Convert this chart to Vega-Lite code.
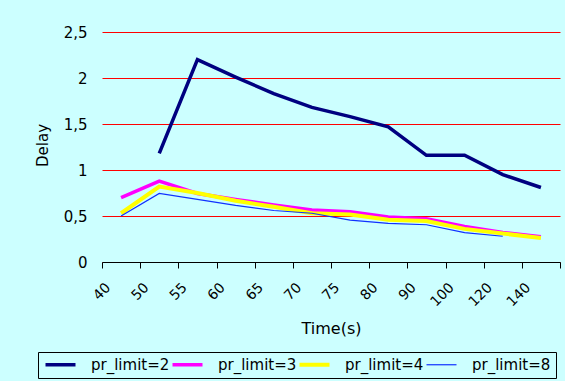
{
  "$schema": "https://vega.github.io/schema/vega-lite/v6.json",
  "width": 458,
  "height": 230,
  "autosize": {"type": "none"},
  "padding": {"left": 102, "top": 32, "right": 5, "bottom": 119},
  "background": "#CCFFFF",
  "config": {
    "view": {"stroke": null},
    "font": "DejaVu Sans"
  },
  "data": {
    "values": [
      {"time": "50", "series": "pr_limit=2", "delay": 1.18},
      {"time": "55", "series": "pr_limit=2", "delay": 2.2},
      {"time": "60", "series": "pr_limit=2", "delay": 2.01},
      {"time": "65", "series": "pr_limit=2", "delay": 1.83},
      {"time": "70", "series": "pr_limit=2", "delay": 1.68},
      {"time": "75", "series": "pr_limit=2", "delay": 1.58},
      {"time": "80", "series": "pr_limit=2", "delay": 1.47},
      {"time": "90", "series": "pr_limit=2", "delay": 1.16},
      {"time": "100", "series": "pr_limit=2", "delay": 1.16},
      {"time": "120", "series": "pr_limit=2", "delay": 0.95},
      {"time": "140", "series": "pr_limit=2", "delay": 0.81},
      {"time": "40", "series": "pr_limit=3", "delay": 0.7},
      {"time": "50", "series": "pr_limit=3", "delay": 0.88},
      {"time": "55", "series": "pr_limit=3", "delay": 0.745},
      {"time": "60", "series": "pr_limit=3", "delay": 0.68},
      {"time": "65", "series": "pr_limit=3", "delay": 0.62},
      {"time": "70", "series": "pr_limit=3", "delay": 0.565},
      {"time": "75", "series": "pr_limit=3", "delay": 0.545},
      {"time": "80", "series": "pr_limit=3", "delay": 0.49},
      {"time": "90", "series": "pr_limit=3", "delay": 0.47},
      {"time": "100", "series": "pr_limit=3", "delay": 0.385},
      {"time": "120", "series": "pr_limit=3", "delay": 0.32},
      {"time": "140", "series": "pr_limit=3", "delay": 0.275},
      {"time": "40", "series": "pr_limit=4", "delay": 0.53},
      {"time": "50", "series": "pr_limit=4", "delay": 0.82},
      {"time": "55", "series": "pr_limit=4", "delay": 0.75},
      {"time": "60", "series": "pr_limit=4", "delay": 0.665},
      {"time": "65", "series": "pr_limit=4", "delay": 0.6},
      {"time": "70", "series": "pr_limit=4", "delay": 0.53},
      {"time": "75", "series": "pr_limit=4", "delay": 0.515},
      {"time": "80", "series": "pr_limit=4", "delay": 0.46},
      {"time": "90", "series": "pr_limit=4", "delay": 0.445},
      {"time": "100", "series": "pr_limit=4", "delay": 0.36},
      {"time": "120", "series": "pr_limit=4", "delay": 0.31},
      {"time": "140", "series": "pr_limit=4", "delay": 0.26},
      {"time": "40", "series": "pr_limit=8", "delay": 0.5},
      {"time": "50", "series": "pr_limit=8", "delay": 0.745},
      {"time": "55", "series": "pr_limit=8", "delay": 0.68},
      {"time": "60", "series": "pr_limit=8", "delay": 0.615},
      {"time": "65", "series": "pr_limit=8", "delay": 0.56},
      {"time": "70", "series": "pr_limit=8", "delay": 0.53},
      {"time": "75", "series": "pr_limit=8", "delay": 0.455},
      {"time": "80", "series": "pr_limit=8", "delay": 0.42},
      {"time": "90", "series": "pr_limit=8", "delay": 0.405},
      {"time": "100", "series": "pr_limit=8", "delay": 0.32},
      {"time": "120", "series": "pr_limit=8", "delay": 0.28}
    ]
  },
  "mark": {"type": "line", "strokeJoin": "miter"},
  "encoding": {
    "x": {
      "field": "time",
      "type": "ordinal",
      "scale": {
        "type": "band",
        "domain": ["40", "50", "55", "60", "65", "70", "75", "80", "90", "100", "120", "140"],
        "paddingInner": 0,
        "paddingOuter": 0
      },
      "axis": {
        "title": "Time(s)",
        "titleFont": "DejaVu Sans",
        "titleFontSize": 16,
        "titleFontWeight": "normal",
        "titleColor": "black",
        "titleBaseline": "alphabetic",
        "titleY": 71,
        "labelAngle": -45,
        "labelAlign": "right",
        "labelBaseline": "middle",
        "labelFontSize": 14,
        "labelColor": "black",
        "labelPadding": 17,
        "labelOffset": -13,
        "tickBand": "extent",
        "tickSize": 6,
        "tickColor": "black",
        "domainColor": "black",
        "grid": false
      }
    },
    "y": {
      "field": "delay",
      "type": "quantitative",
      "scale": {"domain": [0, 2.5], "nice": false},
      "axis": {
        "title": "Delay",
        "titleFontSize": 15,
        "titleFontWeight": "normal",
        "titleColor": "black",
        "titleAngle": -90,
        "titleX": -60,
        "titleY": 113,
        "titleAlign": "center",
        "titleBaseline": "middle",
        "values": [0, 0.5, 1, 1.5, 2, 2.5],
        "labelExpr": "replace(format(datum.value, '~g'), '.', ',')",
        "labelFontSize": 15,
        "labelColor": "black",
        "labelPadding": 15,
        "ticks": false,
        "domain": false,
        "grid": true,
        "gridColor": "#FF0000",
        "gridOpacity": 1,
        "gridWidth": 1
      }
    },
    "color": {
      "field": "series",
      "type": "ordinal",
      "title": null,
      "scale": {
        "domain": ["pr_limit=2", "pr_limit=3", "pr_limit=4", "pr_limit=8"],
        "range": ["#000080", "#FF00FF", "#FFFF00", "#1030FF"]
      },
      "legend": {
        "orient": "none",
        "legendX": -64,
        "legendY": 320,
        "direction": "horizontal",
        "symbolType": "M-1,0H5",
        "symbolSize": 100,
        "labelFontSize": 15,
        "labelColor": "black",
        "labelOffset": 33,
        "columnPadding": -16,
        "padding": 5,
        "strokeColor": "black",
        "gridAlign": "all"
      }
    },
    "strokeWidth": {
      "field": "series",
      "type": "ordinal",
      "title": null,
      "scale": {
        "type": "ordinal",
        "domain": ["pr_limit=2", "pr_limit=3", "pr_limit=4", "pr_limit=8"],
        "range": [3.5, 3.5, 4, 1.2]
      }
    }
  }
}
